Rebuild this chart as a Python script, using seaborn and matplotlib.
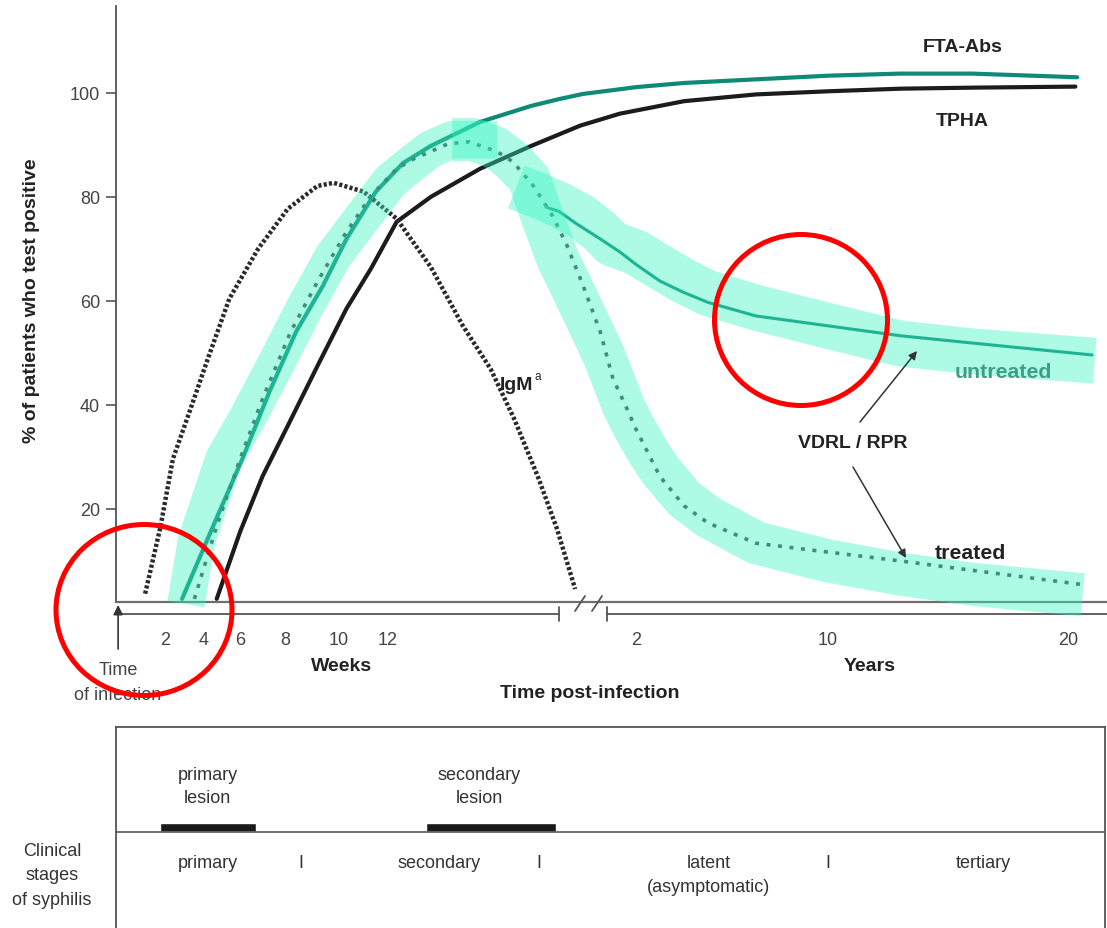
import numpy as np
import matplotlib
matplotlib.use('Agg')
import matplotlib.pyplot as plt
import matplotlib.patches as mpatches
import matplotlib.transforms as mtransforms
from matplotlib.lines import Line2D
import seaborn as sns

W, H = 1107, 929

# time is in weeks after infection (the years part is kept in weeks too)
fta_weeks = [2.87, 4.5, 6.1, 7.3, 8.4, 9.4, 10.3, 11.5, 12.7, 14, 16.3, 18.7, 20,
             30.8, 52, 104, 208, 364, 520, 676, 832, 1060]
fta_pct = [2.7, 16.7, 29.6, 42.5, 54, 62.9, 71.9, 81, 86.5, 89.8, 94.4, 97.5, 98.8,
           99.8, 100.5, 101.1, 101.9, 102.6, 103.3, 103.7, 103.7, 103]

tpha_weeks = [4.7, 6, 7, 8.1, 9.2, 10.3, 11.3, 12.4, 14, 16.3, 18.7, 29.5, 69, 104, 208, 364,
              520, 676, 832, 1056]
tpha_pct = [2.7, 15.6, 26.3, 36, 47.5, 58.5, 66.2, 75.2, 80, 85.4, 89.8, 93.7, 96, 96.6, 98.4,
            99.7, 100.3, 100.8, 101, 101.2]

igm_weeks = [1.15, 1.8, 2.4, 3.3, 4.2, 5.4, 6.8, 8.1, 9.2, 9.8, 11, 12.4, 14, 15.5, 16.8, 17.9,
             19, 19.9, 27.2]
igm_pct = [3.7, 16.5, 29.6, 39.2, 48.8, 60.4, 70, 77.7, 82.1, 82.7, 81, 75.8, 66.5, 55.2, 46.9,
           37.3, 26.3, 16.2, 4.6]

# VDRL / RPR, treated (dotted) curve
treated_weeks = [3.5, 4.7, 6, 7, 8.2, 9.2, 10.2, 11.3, 12.4, 13.2, 14.8, 15.8, 17.1, 17.85, 18.8,
                 19.7, 23.6, 30.8, 38.5, 54, 78, 104, 156, 208, 260, 364, 520, 676, 832, 1075]
treated_pct = [2.7, 16.7, 29.6, 41.2, 54, 63.7, 72.5, 80.2, 85.4, 87.3, 90.2, 90.6, 88.7, 86.7,
               82.1, 76.3, 70.6, 62.9, 54, 45, 40.5, 35.3, 26.2, 20.6, 17.3, 13.4, 11.7, 10, 8.2,
               5.4]

# VDRL / RPR, untreated
untreated_weeks = [19.4, 20, 27.2, 38.5, 69, 104, 156, 208, 260, 364, 520, 676, 832, 1092]
untreated_pct = [78, 77.2, 75, 71.9, 69.4, 67, 63.8, 61.6, 59.7, 57.1, 55.2, 53.3, 51.9, 49.6]

# the broad VDRL / RPR bands
band_rise_weeks = [3.07, 3.6, 5.1, 6.3, 7.7, 8.7, 9.8, 11, 12.1, 13.2, 14, 15, 17.1]
band_rise_pct = [1.7, 13.7, 29.6, 37.3, 48.8, 58.5, 68.7, 76.3, 83, 86.7, 89.2, 91, 91]
band_treated_weeks = [15, 16, 17, 17.8, 18.6, 19.2, 19.95, 28.1, 40.2, 78, 104, 130, 156, 208,
                      260, 364, 520, 676, 832, 1072]
band_treated_pct = [91, 91, 89.5, 87, 83.5, 76.3, 68, 60.4, 49.4, 39.5, 35, 31, 27.5, 22, 18.5,
                    13.5, 10, 7.5, 5.5, 3.5]
band_untreated_weeks = [18, 19, 20, 30, 38, 52, 104, 156, 208, 260, 364, 520, 676, 832, 1098]
band_untreated_pct = [81.9, 80.3, 78.5, 76.2, 73.5, 71, 69.3, 66.5, 63.8, 61.5, 58.7, 55.2, 51.8,
                      50.3, 48.5]

week_ticks = [2, 4, 6, 8, 10, 12]
year_ticks = [2, 10, 20]
y_ticks = [20, 40, 60, 80, 100]

lesions = ['primary\nlesion', 'secondary\nlesion']
lesion_label_weeks = [4.2, 16.3]
lesion_start = [1.8, 13.8]
lesion_end = [6.7, 19.9]
stages = ['primary', 'secondary', 'latent\n(asymptomatic)', 'tertiary']
stage_label_weeks = [4.2, 14.4, 264, 860]
stage_bounds = [8.6, 19.1, 522]

# broken time axis: weeks drawn unevenly, a gap, then years on a linear scale
scale_weeks = [-10, 0, 2, 4, 6, 8, 10, 12, 20, 41.6, 1250]
scale_pos = [-117, 118, 165, 204, 240, 285, 339, 388, 559, 607.2, 1164.9]


def fwd(t):
    return np.interp(t, scale_weeks, scale_pos)


def inv(p):
    return np.interp(p, scale_pos, scale_weeks)


def fx(x):
    return x / W


def fy(y):
    return 1 - y / H


TEAL = '#0f8a76'
MINT = '#32f5be'
DARK = '#222222'
GREY = '#444444'
BIG = 14
SMALL = 13

sns.set_theme(style='white')
plt.rcParams['font.family'] = ['Liberation Sans', 'DejaVu Sans']

fig = plt.figure(figsize=(W / 100, H / 100), dpi=100)
ax = fig.add_axes([fx(116), fy(603), fx(W - 116), (603 - 7) / H])
ax.set_xscale('function', functions=(fwd, inv))

sns.lineplot(x=fta_weeks, y=fta_pct, ax=ax, color=TEAL, linewidth=3, zorder=2)
sns.lineplot(x=tpha_weeks, y=tpha_pct, ax=ax, color='#1c1c1c', linewidth=3, zorder=2)
sns.lineplot(x=igm_weeks, y=igm_pct, ax=ax, color='#2a2a2a', linewidth=3.2,
             linestyle=(0, (0.7, 0.5)), dash_capstyle='butt', zorder=2)
sns.lineplot(x=treated_weeks, y=treated_pct, ax=ax, color='#4a4a4a', linewidth=2.6,
             linestyle=(0, (1.1, 2.1)), dash_capstyle='butt', zorder=2)
sns.lineplot(x=untreated_weeks, y=untreated_pct, ax=ax, color=TEAL, linewidth=2.2, zorder=2)

band_kw = dict(color=MINT, alpha=0.4, solid_capstyle='butt', solid_joinstyle='round',
               clip_on=False, zorder=3)
sns.lineplot(x=band_rise_weeks, y=band_rise_pct, ax=ax, linewidth=27, **band_kw)
sns.lineplot(x=band_treated_weeks, y=band_treated_pct, ax=ax, linewidth=31, **band_kw)
sns.lineplot(x=band_untreated_weeks, y=band_untreated_pct, ax=ax, linewidth=33, **band_kw)

ax.set_yticks(y_ticks)
ax.set_xticks(week_ticks + [y * 52 for y in year_ticks],
              [str(t) for t in week_ticks] + [str(t) for t in year_ticks])
ax.tick_params(axis='y', left=True, length=7.5, width=1.2, color='#555555', labelsize=SMALL,
               labelcolor=GREY, pad=4)
ax.tick_params(axis='x', bottom=False, length=0, pad=21, labelsize=SMALL, labelcolor=GREY)
ax.spines[['top', 'right']].set_visible(False)
ax.spines['left'].set_color('#555555')
ax.spines['left'].set_linewidth(1.3)
ax.spines['bottom'].set_color('#6e6e6e')
ax.spines['bottom'].set_linewidth(1.6)
ax.set_xlabel('')
ax.set_ylabel('% of patients who test positive', fontsize=BIG, fontweight='bold', color=DARK)
ax.yaxis.set_label_coords(-0.077, 0.508)

# timeline under the plot
trans = mtransforms.blended_transform_factory(ax.transData, fig.transFigure)
line_kw = dict(transform=trans, color='#555555', lw=1.3, clip_on=False)
ax.plot([0, 20], [fy(615)] * 2, **line_kw)
ax.plot([41.6, 1124.5], [fy(615)] * 2, **line_kw)
for t in [20, 41.6]:
    ax.plot([t, t], [fy(608), fy(622)], **line_kw)
for x0 in [575, 592]:
    fig.add_artist(Line2D([fx(x0), fx(x0 + 10)], [fy(612), fy(597)], color='#555555', lw=1.3))
ax.annotate('', xy=(0, fy(606)), xytext=(0, fy(650)), xycoords=trans, textcoords=trans,
            arrowprops=dict(arrowstyle='-|>', color='#333333', lw=1.2, mutation_scale=14,
                            shrinkA=0, shrinkB=0))
ax.set_xlim(-0.09, 1124.5)
ax.set_ylim(2.1, 116.7)

fig.text(fx(118), fy(683), 'Time\nof infection', ha='center', va='center', fontsize=SMALL,
         color=GREY, linespacing=1.6)
fig.text(fx(342), fy(667), 'Weeks', ha='center', va='center', fontsize=BIG,
         fontweight='bold', color=DARK)
fig.text(fx(870), fy(667), 'Years', ha='center', va='center', fontsize=BIG,
         fontweight='bold', color=DARK)
fig.text(fx(590), fy(693), 'Time post-infection', ha='center', va='center', fontsize=BIG,
         fontweight='bold', color=DARK)

# curve labels
bold = dict(ha='center', va='center', fontsize=BIG, fontweight='bold', color=DARK)
fig.text(fx(963), fy(48), 'FTA-Abs', **bold)
fig.text(fx(962), fy(122), 'TPHA', **bold)
fig.text(fx(516), fy(386), 'IgM', **bold)
fig.text(fx(538), fy(377), 'a', ha='center', va='center', fontsize=8.5, color=DARK)
fig.text(fx(853), fy(444), 'VDRL / RPR', **bold)
fig.text(fx(1003), fy(373), 'untreated', ha='center', va='center', fontsize=15.3,
         fontweight='bold', color='#3d9e86')
fig.text(fx(970), fy(554), 'treated', ha='center', va='center', fontsize=15.3,
         fontweight='bold', color=DARK)
arrow_kw = dict(arrowstyle='-|>', color='#333333', lw=1.1, mutation_scale=12, shrinkA=0, shrinkB=0)
fig.add_artist(mpatches.FancyArrowPatch((fx(860), fy(423)), (fx(917), fy(352)),
                                        transform=fig.transFigure, **arrow_kw))
fig.add_artist(mpatches.FancyArrowPatch((fx(853), fy(468)), (fx(906), fy(559)),
                                        transform=fig.transFigure, **arrow_kw))

# clinical stages box
ax2 = fig.add_axes([fx(116), 0, fx(W - 116 - 2), (H - 728) / H])
ax2.set_xscale('function', functions=(fwd, inv))
ax2.set_xlim(-0.09, 1124.5)
ax2.set_ylim(H, 728)
ax2.set_xticks([])
ax2.set_yticks([])
ax2.spines['bottom'].set_visible(False)
for s in ['top', 'left', 'right']:
    ax2.spines[s].set_color('#555555')
    ax2.spines[s].set_linewidth(1.3)
ax2.axhline(833, color='#666666', lw=1.3)
ax2.barh([828.5] * 2, np.array(lesion_end) - np.array(lesion_start), left=lesion_start,
         height=9, color='#1a1a1a')
for name, t in zip(lesions, lesion_label_weeks):
    ax2.text(t, 787, name, ha='center', va='center', fontsize=SMALL, color='#333333',
             linespacing=1.5)
for name, t in zip(stages, stage_label_weeks):
    ax2.text(t, 855, name, ha='center', va='top', fontsize=SMALL, color='#333333',
             linespacing=1.5)
for t in stage_bounds:
    ax2.text(t, 855, 'I', ha='center', va='top', fontsize=SMALL, color='#333333')
fig.text(fx(52), fy(876), 'Clinical\nstages\nof syphilis', ha='center', va='center',
         fontsize=SMALL, color='#333333', linespacing=1.55)

# red highlight circles
for cx, cy, w, h in [(801, 321, 173, 171), (144, 611, 176, 171)]:
    fig.add_artist(mpatches.Ellipse((fx(cx), fy(cy)), w / W, h / H, transform=fig.transFigure,
                                    fill=False, ec='#ff0000', lw=3.6, zorder=10))

fig.savefig('out.png', dpi=100)
